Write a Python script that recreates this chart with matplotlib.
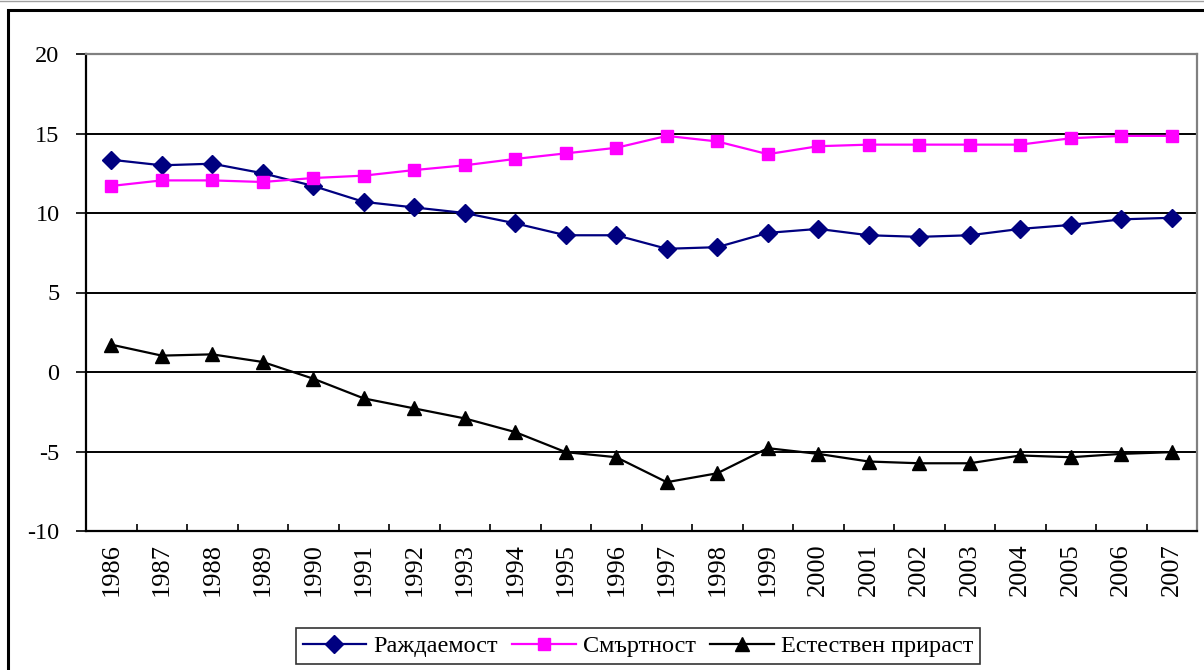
import matplotlib
matplotlib.use("Agg")
import matplotlib.pyplot as plt
from matplotlib.lines import Line2D
from matplotlib.patches import Rectangle

years = ["1986", "1987", "1988", "1989", "1990", "1991", "1992", "1993", "1994", "1995", "1996",
         "1997", "1998", "1999", "2000", "2001", "2002", "2003", "2004", "2005", "2006", "2007"]
birth = [13.35, 13.0, 13.1, 12.5, 11.7, 10.7, 10.35, 10.0, 9.35, 8.6, 8.6,
         7.75, 7.85, 8.75, 9.0, 8.6, 8.5, 8.6, 9.0, 9.25, 9.6, 9.7]
death = [11.7, 12.05, 12.05, 11.95, 12.2, 12.35, 12.7, 13.0, 13.4, 13.75, 14.1,
         14.85, 14.5, 13.7, 14.2, 14.3, 14.3, 14.3, 14.3, 14.7, 14.85, 14.85]
growth = [1.72, 1.03, 1.11, 0.63, -0.42, -1.66, -2.29, -2.92, -3.78, -5.04, -5.36,
          -6.93, -6.37, -4.79, -5.15, -5.63, -5.74, -5.74, -5.25, -5.36, -5.15, -5.04]
series_names = ["Раждаемост", "Смъртност", "Естествен прираст"]
yticks = [-10, -5, 0, 5, 10, 15, 20]
title_text = "(на 1000 души)"

plt.rcParams['font.family'] = ['Liberation Serif', 'DejaVu Serif']

W, H = 1204, 670
fig = plt.figure(figsize=(W / 100, H / 100), dpi=100)

# outer chart border (cut off on right / bottom)
fig.patches.append(Rectangle((8 / W, -0.05), 1.2, (H - 10) / H + 0.05, transform=fig.transFigure,
                             fill=False, edgecolor='black', linewidth=2.2, zorder=0))
fig.add_artist(Line2D([0, 1], [1 - 1 / H, 1 - 1 / H], transform=fig.transFigure,
                      color='#a0a0a0', linewidth=1))
# partially visible title (only its lowest part shows in the reference)
fig.text(698 / W, 1 + 9 / H, title_text, ha='center', va='baseline', fontsize=17, fontweight='bold')

left, right, top, bottom = 86, 1197, 54, 531
ax = fig.add_axes([left / W, (H - bottom) / H, (right - left) / W, (bottom - top) / H])

x = list(range(len(years)))
ax.plot(x, birth, color='#000080', linewidth=1.6, marker='D', markersize=9.5, label=series_names[0], clip_on=False, zorder=4)
ax.plot(x, death, color='#FF00FF', linewidth=1.6, marker='s', markersize=9, label=series_names[1], clip_on=False, zorder=4)
ax.plot(x, growth, color='black', linewidth=1.6, marker='^', markersize=10.5, label=series_names[2], clip_on=False, zorder=4)

ax.set_xlim(-0.5, len(years) - 0.5)
ax.set_ylim(-10, 20)
ax.set_yticks(yticks)
ax.set_yticklabels([str(v) for v in yticks], fontsize=17.5)
for v in yticks[1:-1]:
    ax.axhline(v, color='black', linewidth=1.4, zorder=1)

ax.set_xticks(x)
ax.set_xticklabels(years, rotation=90, fontsize=19)
ax.tick_params(axis='x', which='major', length=0, pad=9)
ax.set_xticks([i + 0.5 for i in range(len(years))], minor=True)
ax.tick_params(axis='x', which='minor', direction='in', length=5, width=1.2)
ax.tick_params(axis='y', direction='out', length=7, width=1.2, pad=12)

for s in ['left', 'bottom']:
    ax.spines[s].set_color('black')
    ax.spines[s].set_linewidth(1.6)
for s in ['top', 'right']:
    ax.spines[s].set_color('#808080')
    ax.spines[s].set_linewidth(1.6)

leg = fig.legend(loc='center', bbox_to_anchor=(638 / W, 1 - 646 / H), ncol=3, fontsize=17.5,
                 frameon=True, fancybox=False, edgecolor='black', handlelength=2.6,
                 columnspacing=0.6, handletextpad=0.3, borderpad=0.3, borderaxespad=0)
leg.get_frame().set_linewidth(1.2)

fig.savefig("out.png", dpi=100)
